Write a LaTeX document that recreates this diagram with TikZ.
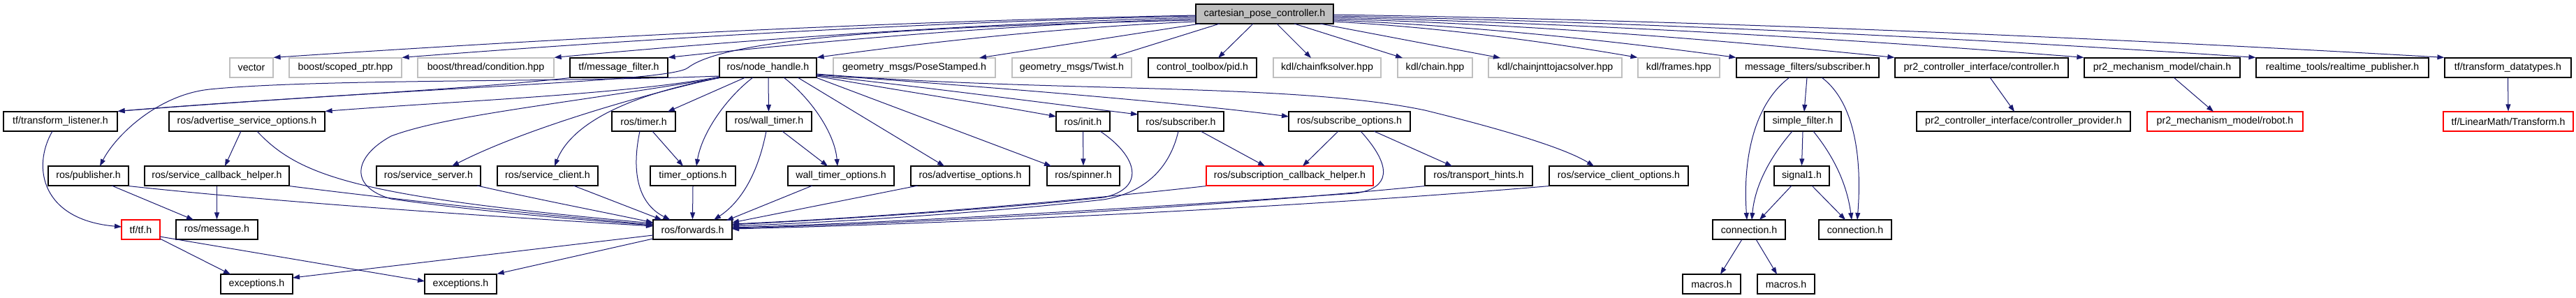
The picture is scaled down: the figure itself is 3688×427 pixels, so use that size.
\documentclass[tikz,border=0pt]{standalone}
\usepackage{fontspec}
\setmainfont{Liberation Sans}
\usetikzlibrary{arrows.meta,calc}
\definecolor{edgeblue}{HTML}{191970}
\definecolor{extgray}{HTML}{BFBFBF}
\definecolor{rootgray}{HTML}{BFBFBF}
\definecolor{missred}{HTML}{FF0000}
\newcommand\gfont{\fontsize{14.2}{17}\selectfont}
\tikzset{
  nb/.style={draw=black, line width=1.2pt, rectangle, minimum height=28pt, inner sep=0pt, font=\gfont, text=black},
  ext/.style={nb, draw=extgray},
  miss/.style={nb, draw=missred},
  rootnode/.style={nb, fill=rootgray},
  e/.style={draw=edgeblue, line width=1pt, -{Triangle[length=10pt,width=7pt]}}
}
\begin{document}
\begin{tikzpicture}[x=1pt,y=-1pt]
\useasboundingbox[fill=white] (0,0) rectangle (3688,427);
% row 0
\node[rootnode, minimum width=197] (R) at (1810.5,20) {cartesian\_pose\_controller.h};
% row 1
\node[ext, minimum width=62] (vector) at (360,97) {vector};
\node[ext, minimum width=161] (scoped) at (494.5,97) {boost/scoped\_ptr.hpp};
\node[ext, minimum width=195] (condition) at (695.5,97) {boost/thread/condition.hpp};
\node[nb, minimum width=140] (msgfilter) at (886,97) {tf/message\_filter.h};
\node[nb, minimum width=139] (nh) at (1099.5,97) {ros/node\_handle.h};
\node[ext, minimum width=232] (pose) at (1309,97) {geometry\_msgs/PoseStamped.h};
\node[ext, minimum width=171] (twist) at (1534.5,97) {geometry\_msgs/Twist.h};
\node[nb, minimum width=155] (pid) at (1721.5,97) {control\_toolbox/pid.h};
\node[ext, minimum width=154] (chainfk) at (1900,97) {kdl/chainfksolver.hpp};
\node[ext, minimum width=107] (kdlchain) at (2054.5,97) {kdl/chain.hpp};
\node[ext, minimum width=191] (jac) at (2226.5,97) {kdl/chainjnttojacsolver.hpp};
\node[ext, minimum width=117] (frames) at (2403.5,97) {kdl/frames.hpp};
\node[nb, minimum width=204] (mfsub) at (2588,97) {message\_filters/subscriber.h};
\node[nb, minimum width=248] (pr2ctrl) at (2837,97) {pr2\_controller\_interface/controller.h};
\node[nb, minimum width=223] (pr2chain) at (3095.5,97) {pr2\_mechanism\_model/chain.h};
\node[nb, minimum width=247] (rtpub) at (3353.5,97) {realtime\_tools/realtime\_publisher.h};
\node[nb, minimum width=181] (tfdt) at (3590.5,97) {tf/transform\_datatypes.h};
% row 2
\node[nb, minimum width=163] (tflistener) at (86.5,174) {tf/transform\_listener.h};
\node[nb, minimum width=223] (advsrvopt) at (353.5,174) {ros/advertise\_service\_options.h};
\node[nb, minimum width=91] (timer) at (921.5,174) {ros/timer.h};
\node[nb, minimum width=122] (walltimer) at (1101,174) {ros/wall\_timer.h};
\node[nb, minimum width=77] (init) at (1550.5,174) {ros/init.h};
\node[nb, minimum width=123] (subscriber) at (1690.5,174) {ros/subscriber.h};
\node[nb, minimum width=174] (subopts) at (1932,174) {ros/subscribe\_options.h};
\node[nb, minimum width=110] (simplefilter) at (2581,174) {simple\_filter.h};
\node[nb, minimum width=306] (ctrlprov) at (2897,174) {pr2\_controller\_interface/controller\_provider.h};
\node[miss, minimum width=223] (robot) at (3185.5,174) {pr2\_mechanism\_model/robot.h};
\node[miss, minimum width=186] (lmtransform) at (3591,174) {tf/LinearMath/Transform.h};
% row 3
\node[nb, minimum width=115] (publisher) at (126.5,252) {ros/publisher.h};
\node[nb, minimum width=207] (srvcbhelper) at (310.5,252) {ros/service\_callback\_helper.h};
\node[nb, minimum width=149] (srvserver) at (613.5,252) {ros/service\_server.h};
\node[nb, minimum width=144] (srvclient) at (784,252) {ros/service\_client.h};
\node[nb, minimum width=122] (timeropts) at (992,252) {timer\_options.h};
\node[nb, minimum width=152] (wallopts) at (1204,252) {wall\_timer\_options.h};
\node[nb, minimum width=170] (advopts) at (1389,252) {ros/advertise\_options.h};
\node[nb, minimum width=104] (spinner) at (1551,252) {ros/spinner.h};
\node[miss, minimum width=239] (subcbhelper) at (1846.5,252) {ros/subscription\_callback\_helper.h};
\node[nb, minimum width=154] (transport) at (2117,252) {ros/transport\_hints.h};
\node[nb, minimum width=199] (srvclientopts) at (2317.5,252) {ros/service\_client\_options.h};
\node[nb, minimum width=79] (signal1) at (2579.5,252) {signal1.h};
% row 4
\node[miss, minimum width=55] (tftf) at (201.5,329) {tf/tf.h};
\node[nb, minimum width=117] (message) at (310.5,329) {ros/message.h};
\node[nb, minimum width=113] (forwards) at (991.5,329) {ros/forwards.h};
\node[nb, minimum width=104] (conn1) at (2504,329) {connection.h};
\node[nb, minimum width=104] (conn2) at (2656,329) {connection.h};
% row 5
\node[nb, minimum width=103] (exc1) at (367.5,407) {exceptions.h};
\node[nb, minimum width=103] (exc2) at (659.5,407) {exceptions.h};
\node[nb, minimum width=83] (macros1) at (2450.5,407) {macros.h};
\node[nb, minimum width=82] (macros2) at (2557,407) {macros.h};

% ---- edges from root
\draw[e] ($(R.center)+(-98.5,2)$) .. controls (1250,31) and (787,56) .. (vector.north east);
\draw[e] ($(R.center)+(-98.5,3)$) .. controls (1314,32) and (916,56) .. (scoped.north east);
\draw[e] ($(R.center)+(-98.5,5)$) .. controls (1390,34) and (1069,57) .. (condition.north east);
\draw[e] ($(R.center)+(-98.5,7)$) .. controls (1447,35) and (1183,58) .. (msgfilter.north east);
\draw[e] ($(R.center)+(-98.5,9)$) .. controls (1300,38) and (1040,55) .. (985,97) .. controls (960,117) and (650,122) .. (tflistener.north east);
\draw[e] ($(R.center)+(-98.5,11)$) .. controls (1522,39) and (1332,60) .. (nh.north east);
\draw[e] ($(R.center)+(-92.5,14)$) -- ($(pose.center)+(93,-14)$);
\draw[e] ($(R.center)+(-64.5,14)$) -- ($(twist.center)+(54.5,-14)$);
\draw[e] ($(R.center)+(-16.5,14)$) -- ($(pid.center)+(22.5,-14)$);
\draw[e] ($(R.center)+(17.5,14)$) -- ($(chainfk.center)+(-23,-14)$);
\draw[e] ($(R.center)+(42.5,14)$) -- ($(kdlchain.center)+(-46.5,-14)$);
\draw[e] ($(R.center)+(79.5,14)$) -- ($(jac.center)+(-78.5,-14)$);
\draw[e] ($(R.center)+(98.5,11)$) .. controls (2062,39) and (2214,60) .. (frames.north west);
\draw[e] ($(R.center)+(98.5,9)$) .. controls (2111,37) and (2313,59) .. (mfsub.north west);
\draw[e] ($(R.center)+(98.5,7)$) .. controls (2190,35) and (2472,58) .. (pr2ctrl.north west);
\draw[e] ($(R.center)+(98.5,5)$) .. controls (2285,34) and (2662,57) .. (pr2chain.north west);
\draw[e] ($(R.center)+(98.5,3)$) .. controls (2371,32) and (2834,56) .. (rtpub.north west);
\draw[e] ($(R.center)+(98.5,1)$) .. controls (2466,30) and (3023,55) .. (tfdt.north west);

% ---- tf/message_filter
\draw[e] (msgfilter.south west) .. controls (650,130) and (400,140) .. (tflistener.north east);

% ---- ros/node_handle
\draw[e] ($(nh.center)+(-69.5,12)$) .. controls (800,118) and (450,113) .. (300,128) .. controls (225,136) and (165,195) .. ($(publisher.center)+(16.5,-14)$);
\draw[e] ($(nh.center)+(-69.5,13)$) .. controls (900,135) and (650,145) .. (advsrvopt.north east);
\draw[e] (nh.south west) .. controls (800,150) and (640,165) .. (560,195) .. controls (505,225) and (500,268) .. (560,285) .. controls (700,305) and (850,316) .. ($(forwards.center)+(-56.5,-6)$);
\draw[e] (nh.south west) .. controls (950,128) and (760,180) .. ($(srvserver.center)+(33.5,-14)$);
\draw[e] (nh.south west) .. controls (880,140) and (815,185) .. ($(srvclient.center)+(10,-14)$);
\draw[e] ($(nh.center)+(-32.5,14)$) -- ($(timer.center)+(34.5,-14)$);
\draw[e] ($(nh.center)+(-21.5,14)$) .. controls (1040,140) and (1005,190) .. ($(timeropts.center)+(5,-14)$);
\draw[e] ($(nh.center)+(0.5,14)$) -- ($(walltimer.center)+(-0.5,-14)$);
\draw[e] ($(nh.center)+(22.5,14)$) .. controls (1160,140) and (1195,190) .. ($(wallopts.center)+(-5,-14)$);
\draw[e] ($(nh.center)+(42.5,14)$) -- ($(advopts.center)+(-37,-14)$);
\draw[e] (nh.south east) -- ($(spinner.center)+(-46,-14)$);
\draw[e] ($(nh.center)+(69.5,12)$) .. controls (1300,132) and (1420,150) .. ($(init.center)+(-38.5,-7)$);
\draw[e] ($(nh.center)+(69.5,11)$) .. controls (1350,128) and (1500,148) .. ($(subscriber.center)+(-61.5,-10)$);
\draw[e] ($(nh.center)+(69.5,10)$) .. controls (1450,127) and (1700,148) .. ($(subopts.center)+(-87,-7)$);
\draw[e] ($(nh.center)+(69.5,9)$) .. controls (1500,133) and (1850,118) .. (2040,158) .. controls (2150,185) and (2240,212) .. ($(srvclientopts.center)+(-35.5,-14)$);

% ---- left part
\draw[e] ($(tflistener.center)+(-11.5,14)$) .. controls (45,240) and (60,315) .. ($(tftf.center)+(-27.5,-4)$);
\draw[e] ($(advsrvopt.center)+(-8.5,14)$) -- ($(srvcbhelper.center)+(11.5,-14)$);
\draw[e] ($(advsrvopt.center)+(14.5,14)$) .. controls (430,255) and (520,282) .. ($(forwards.center)+(-56.5,-9)$);
\draw[e] ($(publisher.center)+(33.5,14)$) -- ($(message.center)+(-33.5,-14)$);
\draw[e] (publisher.south east) .. controls (400,290) and (700,310) .. ($(forwards.center)+(-56.5,-5)$);
\draw[e] (srvcbhelper.south) -- (message.north);
\draw[e] (srvcbhelper.south east) .. controls (600,290) and (800,310) .. ($(forwards.center)+(-56.5,-7)$);
\draw[e] ($(srvserver.center)+(69.5,14)$) .. controls (780,288) and (870,305) .. ($(forwards.center)+(-56.5,-10)$);
\draw[e] ($(srvclient.center)+(37,14)$) -- ($(forwards.center)+(-44,-14)$);
\draw[e] ($(timer.center)+(12.5,14)$) -- ($(timeropts.center)+(-14,-14)$);
\draw[e] ($(timer.center)+(-5.5,14)$) .. controls (905,240) and (910,290) .. ($(forwards.center)+(-32,-14)$);
\draw[e] (timeropts.south) -- (forwards.north);
\draw[e] ($(walltimer.center)+(-4,14)$) .. controls (1085,250) and (1060,290) .. ($(forwards.center)+(30.5,-14)$);
\draw[e] ($(walltimer.center)+(19,14)$) -- ($(wallopts.center)+(-19,-14)$);
\draw[e] ($(wallopts.center)+(-41,14)$) -- ($(forwards.center)+(48.5,-13)$);
\draw[e] ($(advopts.center)+(-75,14)$) -- ($(forwards.center)+(56.5,-10)$);
\draw[e] (init.south) -- (spinner.north);
\draw[e] ($(init.center)+(24.5,14)$) .. controls (1630,225) and (1640,270) .. (1580,283) .. controls (1400,302) and (1200,314) .. ($(forwards.center)+(56.5,-7)$);
\draw[e] ($(subscriber.center)+(28.5,14)$) -- ($(subcbhelper.center)+(-35.5,-14)$);
\draw[e] ($(subscriber.center)+(-3.5,14)$) .. controls (1675,240) and (1640,276) .. (1580,286) .. controls (1400,306) and (1200,318) .. ($(forwards.center)+(56.5,-5)$);
\draw[e] ($(subopts.center)+(-16,14)$) -- ($(subcbhelper.center)+(18.5,-14)$);
\draw[e] ($(subopts.center)+(16,14)$) .. controls (1995,240) and (1990,270) .. (1940,277) .. controls (1600,300) and (1300,318) .. ($(forwards.center)+(56.5,-3)$);
\draw[e] ($(subopts.center)+(35,14)$) -- ($(transport.center)+(-38,-14)$);
\draw[e] (subcbhelper.south west) .. controls (1500,292) and (1250,312) .. ($(forwards.center)+(56.5,-8)$);
\draw[e] (transport.south west) .. controls (1700,300) and (1300,320) .. ($(forwards.center)+(56.5,-2)$);
\draw[e] (srvclientopts.south west) .. controls (1800,302) and (1300,322) .. ($(forwards.center)+(56.5,-1)$);
\draw[e] ($(forwards.center)+(-56.5,8)$) -- ($(exc1.center)+(51.5,-9)$);
\draw[e] ($(forwards.center)+(-56.5,13)$) -- (exc2.north east);
\draw[e] ($(tftf.center)+(27.5,13)$) -- ($(exc1.center)+(-37.5,-14)$);
\draw[e] ($(tftf.center)+(27.5,10)$) -- ($(exc2.center)+(-51.5,-4)$);

% ---- message_filters part
\draw[e] ($(mfsub.center)+(-26,14)$) .. controls (2510,150) and (2495,230) .. ($(conn1.center)+(-3,-14)$);
\draw[e] ($(mfsub.center)+(-1,14)$) -- ($(simplefilter.center)+(2,-14)$);
\draw[e] ($(mfsub.center)+(20,14)$) .. controls (2660,150) and (2665,240) .. ($(conn2.center)+(3,-14)$);
\draw[e] ($(simplefilter.center)+(-15,14)$) .. controls (2530,230) and (2512,270) .. ($(conn1.center)+(4,-14)$);
\draw[e] (simplefilter.south) -- (signal1.north);
\draw[e] ($(simplefilter.center)+(15,14)$) .. controls (2630,230) and (2645,270) .. ($(conn2.center)+(-5,-14)$);
\draw[e] ($(signal1.center)+(-14.5,14)$) -- ($(conn1.center)+(15,-14)$);
\draw[e] ($(signal1.center)+(14.5,14)$) -- ($(conn2.center)+(-14,-14)$);
\draw[e] ($(conn1.center)+(-10,14)$) -- ($(macros1.center)+(12.5,-14)$);
\draw[e] ($(conn1.center)+(10,14)$) -- ($(macros2.center)+(-13,-14)$);

% ---- right part
\draw[e] ($(pr2ctrl.center)+(12,14)$) -- ($(ctrlprov.center)+(-13,-14)$);
\draw[e] ($(pr2chain.center)+(16.5,14)$) -- ($(robot.center)+(-16.5,-14)$);
\draw[e] (tfdt.south) -- (lmtransform.north);
\end{tikzpicture}
\end{document}
